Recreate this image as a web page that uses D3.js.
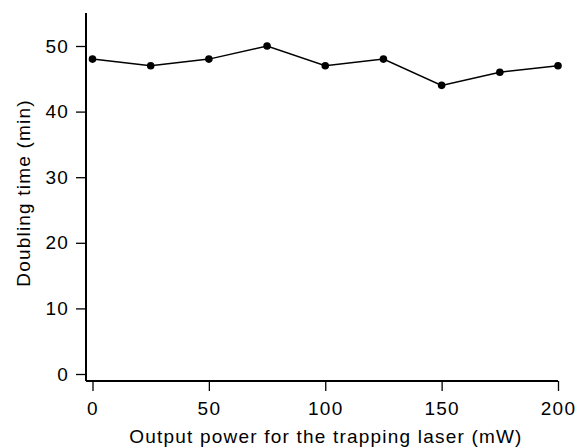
<!DOCTYPE html>
<html><head><meta charset="utf-8">
<script src="https://cdn.jsdelivr.net/npm/d3@7"></script>
<style>body{margin:0;background:#fff}svg{display:block}text{font-family:"Liberation Sans",Arial,Helvetica,sans-serif;fill:#000}</style>
</head><body>
<script>
const powers = [0, 25, 50, 75, 100, 125, 150, 175, 200];
const doublingTimes = [48, 47, 48, 50, 47, 48, 44, 46, 47];
const xTicks = [0, 50, 100, 150, 200];
const yTicks = [0, 10, 20, 30, 40, 50];
const xTitle = "Output power for the trapping laser (mW)";
const yTitle = "Doubling time (min)";

const W = 577, H = 448;
const svg = d3.select("body").append("svg").attr("width", W).attr("height", H);

const x = d3.scaleLinear().domain([0, 200]).range([92.5, 558]);
const y = d3.scaleLinear().domain([0, 50]).range([374, 46]);
const axisX = 86, axisY = 381, topY = 13;
const fs = 19, ls = 1.2;
const ff = "Liberation Sans, Arial, sans-serif";

// y axis
const gy = svg.append("g").attr("transform", `translate(${axisX},0)`)
  .call(d3.axisLeft(y).tickValues(yTicks).tickSize(10).tickSizeOuter(0).tickPadding(7));
gy.select(".domain").remove();
gy.selectAll("line").attr("stroke", "#000").attr("stroke-width", 1.3);
gy.selectAll("text").attr("font-size", fs).attr("font-family", ff).attr("letter-spacing", ls).attr("fill", "#000");
svg.append("line").attr("x1", axisX).attr("x2", axisX).attr("y1", topY).attr("y2", axisY)
  .attr("stroke", "#000").attr("stroke-width", 2);

// x axis
const gx = svg.append("g").attr("transform", `translate(0,${axisY})`)
  .call(d3.axisBottom(x).tickValues(xTicks).tickSize(10).tickSizeOuter(0).tickPadding(11));
gx.select(".domain").remove();
gx.selectAll("line").attr("stroke", "#000").attr("stroke-width", 1.3);
gx.selectAll("text").attr("font-size", fs).attr("font-family", ff).attr("letter-spacing", ls).attr("fill", "#000");
svg.append("line").attr("x1", axisX).attr("x2", x(200)).attr("y1", axisY).attr("y2", axisY)
  .attr("stroke", "#000").attr("stroke-width", 2);

// line + points
const data = powers.map((p, i) => ({p, v: doublingTimes[i]}));
svg.append("path").datum(data)
  .attr("d", d3.line().x(d => x(d.p)).y(d => y(d.v)))
  .attr("fill", "none").attr("stroke", "#000").attr("stroke-width", 1.5);
svg.selectAll("circle.pt").data(data).join("circle")
  .attr("cx", d => x(d.p)).attr("cy", d => y(d.v)).attr("r", 3.8).attr("fill", "#000");

// titles
svg.append("text").attr("x", 326).attr("y", 443)
  .attr("text-anchor", "middle").attr("font-size", fs).attr("letter-spacing", ls).text(xTitle);
svg.append("text").attr("transform", `translate(30,193) rotate(-90)`)
  .attr("text-anchor", "middle").attr("font-size", fs).attr("letter-spacing", ls).text(yTitle);
</script>
</body></html>
